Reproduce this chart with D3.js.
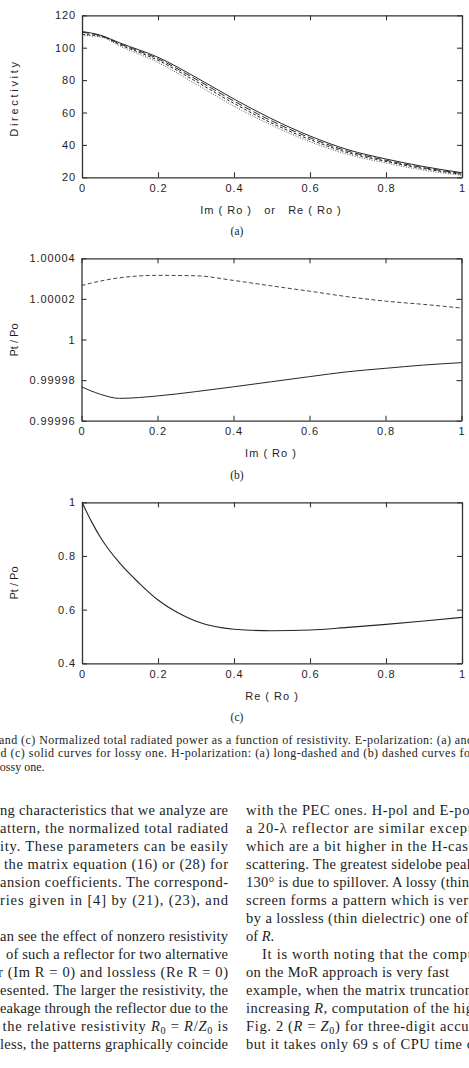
<!DOCTYPE html>
<html>
<head>
<meta charset="utf-8">
<script src="https://cdn.jsdelivr.net/npm/d3@7"></script>
<style>
  body { margin: 0; background: #fff; }
  svg { display: block; }
  .tick text { font-family: "Liberation Sans", Arial, sans-serif; font-size: 11px; letter-spacing: 0.9px; fill: #1e1e1e; }
  .axis-title { font-family: "Liberation Sans", Arial, sans-serif; font-size: 11px; fill: #1e1e1e; }
  .serif { font-family: "Liberation Serif", "Times New Roman", serif; fill: #1c1c1c; }
</style>
</head>
<body>
<script>
// ---- data ----
const xTicks = [0, 0.2, 0.4, 0.6, 0.8, 1];

// (a) directivity vs Im(Ro) or Re(Ro)
const dirX = [0, 0.05, 0.1, 0.2, 0.3, 0.4, 0.5, 0.6, 0.7, 0.8, 0.9, 1];
const dirSolid    = [110, 107.6, 102.9, 94.1, 81.7, 68.3, 56.0, 45.5, 37.0, 31.3, 26.6, 22.8];
const dirLongDash = [109.5, 107.4, 102.4, 93.2, 80.5, 67.0, 54.7, 44.4, 36.1, 30.5, 25.9, 22.3];
const dirDashed   = [108.2, 107.0, 101.8, 92.2, 79.2, 65.6, 53.4, 43.3, 35.2, 29.8, 25.3, 21.8];
const dirDotted   = [107.6, 106.6, 101.0, 90.9, 77.5, 63.9, 52.0, 42.0, 34.1, 28.8, 24.4, 21.2];
const dirYTicks = [20, 40, 60, 80, 100, 120];

// (b) Pt/Po vs Im(Ro)
const ptImX = [0, 0.05, 0.1, 0.2, 0.3, 0.4, 0.5, 0.6, 0.7, 0.8, 0.9, 1];
const ptImDashed = [1.0000266, 1.0000288, 1.0000304, 1.0000316, 1.0000314, 1.0000291, 1.0000264, 1.0000238, 1.0000211, 1.0000189, 1.0000173, 1.0000155];
const ptImSolid  = [0.9999767, 0.9999730, 0.9999710, 0.9999722, 0.9999743, 0.9999767, 0.9999792, 0.9999817, 0.9999841, 0.9999858, 0.9999874, 0.9999886];
const ptImYTicks = [0.99996, 0.99998, 1, 1.00002, 1.00004];

// (c) Pt/Po vs Re(Ro)
const ptReX = [0, 0.025, 0.05, 0.1, 0.15, 0.2, 0.25, 0.3, 0.35, 0.4, 0.5, 0.6, 0.7, 0.8, 0.9, 1];
const ptReSolid = [1, 0.928, 0.866, 0.772, 0.699, 0.636, 0.59, 0.557, 0.537, 0.527, 0.5215, 0.524, 0.534, 0.545, 0.5575, 0.571];
const ptReYTicks = [0.4, 0.6, 0.8, 1];

// caption and body text (page crop)
const captionLines = [
  "and (c) Normalized total radiated power as a function of resistivity. E-polarization: (a) and",
  "d (c) solid curves for lossy one. H-polarization: (a) long-dashed and (b) dashed curves for",
  "lossy one."
];
const leftColumn = [
  "ng characteristics that we analyze are",
  "attern, the normalized total radiated",
  "ity. These parameters can be easily",
  "the matrix equation (16) or (28) for",
  "ansion coefficients. The correspond-",
  "ries given in [4] by (21), (23), and",
  "",
  "an see the effect of nonzero resistivity",
  "of such a reflector for two alternative",
  "r (Im R = 0) and lossless (Re R = 0)",
  "esented. The larger the resistivity, the",
  "eakage through the reflector due to the",
  "the relative resistivity *R*_0 = *R*/*Z*_0 is",
  "less, the patterns graphically coincide"
];
const leftStart = [0, 0, 0, 4, 0, 0, 0, 0, 6, -2, 0, 0, 2.5, 0];
const rightColumn = [
  "with the PEC ones. H-pol and E-pol",
  "a 20-\u03bb reflector are similar except",
  "which are a bit higher in the H-case",
  "scattering. The greatest sidelobe peak",
  "130\u00b0 is due to spillover. A lossy (thin)",
  "screen forms a pattern which is very",
  "by a lossless (thin dielectric) one of",
  "of *R*.",
  "It is worth noting that the compu",
  "on the MoR approach is very fast",
  "example, when the matrix truncation",
  "increasing *R*, computation of the hig",
  "Fig. 2 (*R* = *Z*_0) for three-digit accur",
  "but it takes only 69 s of CPU time o"
];
const rightStart = [246, 246, 246, 246, 246, 246, 246, 246, 262, 246, 246, 246, 246, 246];
const rightEnd   = [474, 472, 475, 474, 474, 476, 468, null, 475, 449, 472, 473, 474, 474];

const svg = d3.select("body").append("svg")
  .attr("width", 469)
  .attr("height", 1068);

const ink = "#262626";

function drawPanel(p){
  let x = d3.scaleLinear().domain([0, 1]).range([p.left, p.right]);
  let y = d3.scaleLinear().domain(p.yDomain).range([p.bottom, p.top]);
  let g = svg.append("g");

  g.append("g").attr("transform", "translate(0," + p.bottom + ")")
    .call(d3.axisBottom(x).tickValues(xTicks).tickFormat(d3.format("~g"))
      .tickSize(-5).tickSizeOuter(0).tickPadding(7));
  g.append("g").attr("transform", "translate(0," + p.top + ")")
    .call(d3.axisTop(x).tickValues(xTicks).tickFormat("").tickSize(-5).tickSizeOuter(0));
  g.append("g").attr("transform", "translate(" + p.left + ",0)")
    .call(d3.axisLeft(y).tickValues(p.yTicks).tickFormat(d3.format("~g"))
      .tickSize(-5).tickSizeOuter(0).tickPadding(6));
  g.append("g").attr("transform", "translate(" + p.right + ",0)")
    .call(d3.axisRight(y).tickValues(p.yTicks).tickFormat("").tickSize(-5).tickSizeOuter(0));

  g.selectAll(".domain").attr("stroke", "#333").attr("stroke-width", 1.3);
  g.selectAll(".tick line").attr("stroke", "#333").attr("stroke-width", 1.1);

  p.series.forEach(s => {
    let line = d3.line()
      .curve(d3.curveMonotoneX)
      .x((d, i) => x(s.x[i]))
      .y(d => y(d));
    g.append("path")
      .attr("d", line(s.values))
      .attr("fill", "none")
      .attr("stroke", s.color || ink)
      .attr("stroke-width", s.width || 1)
      .attr("stroke-dasharray", s.dash || null);
  });

  // y title
  g.append("text").attr("class", "axis-title")
    .attr("transform", "translate(" + p.yTitleX + "," + p.yTitleY + ") rotate(-90)")
    .attr("text-anchor", "middle")
    .style("letter-spacing", p.yTitleSpacing || "0px")
    .text(p.yTitle);

  // x title
  g.append("text").attr("class", "axis-title")
    .attr("x", p.xTitleX).attr("y", p.bottom + 36.5)
    .attr("text-anchor", "middle")
    .style("white-space", "pre")
    .style("letter-spacing", "1px")
    .text(p.xTitle);

  // panel label
  svg.append("text").attr("class", "serif")
    .attr("x", 237).attr("y", p.bottom + 58)
    .attr("text-anchor", "middle")
    .style("font-size", "11.5px")
    .text(p.label);
}

drawPanel({
  left: 82, right: 462, top: 15.3, bottom: 177.3,
  yDomain: [20, 120], yTicks: dirYTicks,
  series: [
    {x: dirX, values: dirDotted, dash: "1,1.5", color: "#555"},
    {x: dirX, values: dirDashed, dash: "3,2"},
    {x: dirX, values: dirLongDash, dash: "7,3"},
    {x: dirX, values: dirSolid}
  ],
  yTitle: "Directivity", yTitleX: 18, yTitleY: 98, yTitleSpacing: "2.7px",
  xTitle: "Im ( Ro )   or   Re ( Ro )", xTitleX: 271,
  label: "(a)"
});

drawPanel({
  left: 81.5, right: 461.5, top: 258.3, bottom: 420.7,
  yDomain: [0.99996, 1.00004], yTicks: ptImYTicks,
  series: [
    {x: ptImX, values: ptImDashed, dash: "4,2.5", color: "#444"},
    {x: ptImX, values: ptImSolid}
  ],
  yTitle: "Pt / Po", yTitleX: 18, yTitleY: 340,
  xTitle: "Im ( Ro )", xTitleX: 271,
  label: "(b)"
});

drawPanel({
  left: 82, right: 462, top: 502.3, bottom: 663.3,
  yDomain: [0.4, 1], yTicks: ptReYTicks,
  series: [
    {x: ptReX, values: ptReSolid, width: 1.1}
  ],
  yTitle: "Pt / Po", yTitleX: 18, yTitleY: 583,
  xTitle: "Re ( Ro )", xTitleX: 272,
  label: "(c)"
});

// rich text: *italic* and _0 subscript
function addRich(textSel, str){
  let parts = str.split(/(\*[^*]+\*|_\d)/).filter(s => s.length);
  let shifted = false;
  parts.forEach(s => {
    let ts;
    if(s[0] === "*"){
      ts = textSel.append("tspan").style("font-style", "italic").text(s.slice(1, -1));
    } else if(s[0] === "_"){
      ts = textSel.append("tspan").style("font-size", "70%").text(s.slice(1));
      ts.attr("dy", 3);
      shifted = true;
      return;
    } else {
      ts = textSel.append("tspan").text(s);
    }
    if(shifted){ ts.attr("dy", -3); shifted = false; }
  });
}

// caption
const capY = [743.5, 757, 770.5];
captionLines.forEach((t, i) => {
  let el = svg.append("text").attr("class", "serif")
    .attr("x", i === 2 ? -3.5 : (i === 0 ? -1 : 0.5))
    .attr("y", capY[i])
    .style("font-size", "12px")
    .text(t);
  if(i < 2) el.attr("textLength", 474).attr("lengthAdjust", "spacing");
});

// body columns
leftColumn.forEach((t, i) => {
  if(!t) return;
  let el = svg.append("text").attr("class", "serif")
    .attr("x", leftStart[i]).attr("y", 815 + i * 18)
    .style("font-size", "14.5px");
  addRich(el, t);
  el.attr("textLength", 228 - leftStart[i]).attr("lengthAdjust", "spacing");
});

rightColumn.forEach((t, i) => {
  let el = svg.append("text").attr("class", "serif")
    .attr("x", rightStart[i]).attr("y", 815 + i * 18)
    .style("font-size", "14.5px");
  addRich(el, t);
  if(rightEnd[i]) el.attr("textLength", rightEnd[i] - rightStart[i]).attr("lengthAdjust", "spacing");
});
</script>
</body>
</html>
